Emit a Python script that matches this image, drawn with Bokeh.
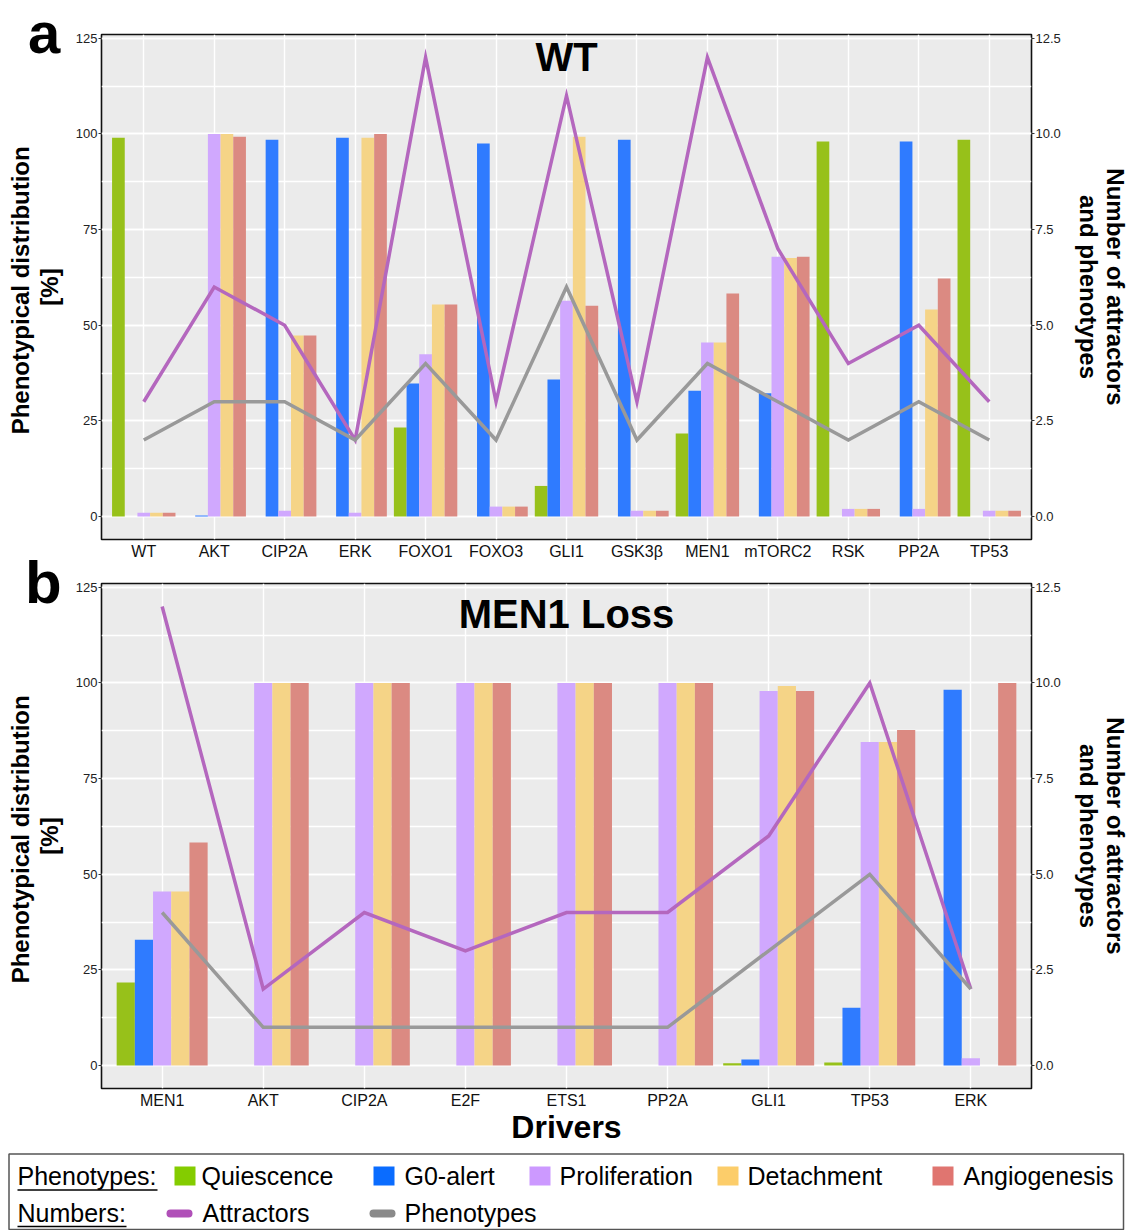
import numpy as np
from bokeh.plotting import figure
from bokeh.layouts import column
from bokeh.models import (ColumnDataSource, Range1d, LinearAxis, Label, FixedTicker,
                          SingleIntervalTicker, PrintfTickFormatter, Div)
from bokeh.embed import file_html
from bokeh.resources import INLINE

# ---------------- data ----------------
phenotype_names = ["Quiescence", "G0-alert", "Proliferation", "Detachment", "Angiogenesis"]
bar_colors = ["#97C11A", "#2F7BFF", "#D0A8FE", "#F5D487", "#DB8A82"]
legend_colors = ["#84CC00", "#0A6CFF", "#CC99FF", "#FCCD6A", "#E07570"]
number_names = ["Attractors", "Phenotypes"]
line_colors = ["#B467BE", "#999999"]
legend_line_colors = ["#B050B8", "#8A8A8A"]

wt_drivers = ["WT", "AKT", "CIP2A", "ERK", "FOXO1", "FOXO3", "GLI1", "GSK3β",
              "MEN1", "mTORC2", "RSK", "PP2A", "TP53"]
wt_quiescence = [99.0, 0, 0, 0, 23.3, 0, 8.0, 0, 21.7, 0, 98.0, 0, 98.5]
wt_g0_alert = [0, 0.3, 98.5, 99.0, 34.8, 97.5, 35.8, 98.5, 32.9, 32.2, 0, 98.0, 0]
wt_proliferation = [1.0, 100, 1.5, 1.0, 42.4, 2.6, 56.4, 1.5, 45.5, 67.9, 2.0, 2.0, 1.5]
wt_detachment = [1.0, 100, 47.3, 99.0, 55.4, 2.6, 99.3, 1.5, 45.5, 67.6, 2.0, 54.1, 1.5]
wt_angiogenesis = [1.0, 99.3, 47.3, 100, 55.4, 2.6, 55.1, 1.5, 58.3, 67.9, 2.0, 62.2, 1.5]
wt_attractors = [3, 6, 5, 2, 12, 3, 11, 3, 12, 7, 4, 5, 3]
wt_phenotypes = [2, 3, 3, 2, 4, 2, 6, 2, 4, 3, 2, 3, 2]

men1_drivers = ["MEN1", "AKT", "CIP2A", "E2F", "ETS1", "PP2A", "GLI1", "TP53", "ERK"]
men1_quiescence = [21.7, 0, 0, 0, 0, 0, 0.6, 0.8, 0]
men1_g0_alert = [32.9, 0, 0, 0, 0, 0, 1.6, 15.1, 98.2]
men1_proliferation = [45.5, 100, 100, 100, 100, 100, 97.9, 84.6, 1.9]
men1_detachment = [45.5, 100, 100, 100, 100, 100, 99.2, 84.6, 0]
men1_angiogenesis = [58.3, 100, 100, 100, 100, 100, 97.9, 87.7, 100]
men1_attractors = [12, 2, 4, 3, 4, 4, 6, 10, 2]
men1_phenotypes = [4, 1, 1, 1, 1, 1, 3, 5, 2]

right_ticks = [0, 2.5, 5.0, 7.5, 10.0, 12.5]

FONT = "Liberation Sans"
W = 1131
BORDER_L = 101
BORDER_R = 99
BW = 0.18


def make_panel(drivers, series, attractors, phenos, title, title_y,
               height, btop, bbottom, xlabel):
    n = len(drivers)
    p = figure(width=W, height=height,
               x_range=Range1d(-0.6, n - 1 + 0.6), y_range=Range1d(-6, 126),
               output_backend="svg", toolbar_location=None,
               min_border_left=BORDER_L, min_border_right=BORDER_R,
               min_border_top=btop, min_border_bottom=bbottom)
    p.extra_y_ranges = {"num": Range1d(-0.6, 12.6)}
    p.background_fill_color = "#EBEBEB"
    p.border_fill_color = "white"
    p.outline_line_color = "#111111"
    p.outline_line_width = 1.6

    idx = np.arange(n)
    for k, (vals, col) in enumerate(zip(series, bar_colors)):
        src = ColumnDataSource(dict(x=idx + (k - 2) * BW, top=vals))
        p.vbar(x="x", top="top", bottom=0, width=BW, source=src,
               fill_color=col, line_color=None)

    for vals, col in zip([attractors, phenos], line_colors):
        src = ColumnDataSource(dict(x=idx, y=vals))
        p.line(x="x", y="y", source=src, line_color=col, line_width=3.5,
               y_range_name="num", line_join="miter")

    # x axis
    xt = FixedTicker(ticks=list(range(n)))
    p.xaxis.ticker = xt
    p.xgrid.ticker = xt
    p.xaxis.major_label_overrides = {i: d for i, d in enumerate(drivers)}
    p.xaxis.major_tick_line_color = None
    p.xaxis.major_tick_out = 0
    p.xaxis.major_tick_in = 0
    p.xaxis.minor_tick_line_color = None
    p.xaxis.minor_tick_out = 0
    p.xaxis.axis_line_color = None
    p.xaxis.major_label_text_font = FONT
    p.xaxis.major_label_text_font_size = "16px"
    p.xaxis.major_label_text_color = "#111111"
    p.xaxis.major_label_standoff = 3
    if xlabel:
        p.xaxis.axis_label = xlabel
        p.xaxis.axis_label_text_font = FONT
        p.xaxis.axis_label_text_font_style = "bold"
        p.xaxis.axis_label_text_font_size = "32px"
        p.xaxis.axis_label_text_line_height = 1.0
        p.xaxis.axis_label_text_color = "black"
        p.xaxis.axis_label_standoff = -3

    # left y axis
    yt = SingleIntervalTicker(interval=25, num_minor_ticks=2)
    p.yaxis.ticker = yt
    p.ygrid.ticker = yt
    p.yaxis.axis_line_color = None
    p.yaxis.minor_tick_line_color = None
    p.yaxis.minor_tick_out = 0
    p.yaxis.major_tick_line_color = "#333333"
    p.yaxis.major_tick_in = 0
    p.yaxis.major_tick_out = 3
    p.yaxis.major_label_text_font = FONT
    p.yaxis.major_label_text_font_size = "13px"
    p.yaxis.major_label_text_color = "#222222"
    p.yaxis.major_label_standoff = 1
    p.yaxis.axis_label = "Phenotypical  distribution\n[%]"
    p.yaxis.axis_label_text_font = FONT
    p.yaxis.axis_label_text_font_style = "bold"
    p.yaxis.axis_label_text_font_size = "24px"
    p.yaxis.axis_label_text_line_height = 1.05
    p.yaxis.axis_label_text_color = "black"
    p.yaxis.axis_label_standoff = 10

    # right axis
    ra = LinearAxis(y_range_name="num", ticker=FixedTicker(ticks=right_ticks),
                    formatter=PrintfTickFormatter(format="%.1f"))
    ra.axis_line_color = None
    ra.minor_tick_line_color = None
    ra.minor_tick_out = 0
    ra.major_tick_line_color = "#333333"
    ra.major_tick_in = 0
    ra.major_tick_out = 3
    ra.major_label_text_font = FONT
    ra.major_label_text_font_size = "13px"
    ra.major_label_text_color = "#222222"
    ra.major_label_standoff = 1
    ra.axis_label = "Number of attractors\nand phenotypes"
    ra.axis_label_text_font = FONT
    ra.axis_label_text_font_style = "bold"
    ra.axis_label_text_font_size = "24px"
    ra.axis_label_text_line_height = 1.0
    ra.axis_label_text_color = "black"
    ra.axis_label_standoff = 11
    p.add_layout(ra, "right")

    # grid
    p.xgrid.grid_line_color = "white"
    p.xgrid.grid_line_width = 1.4
    p.ygrid.grid_line_color = "white"
    p.ygrid.grid_line_width = 1.5
    p.ygrid.minor_grid_line_color = "white"
    p.ygrid.minor_grid_line_width = 1.3

    p.add_layout(Label(x=(n - 1) / 2, y=title_y, text=title, text_align="center",
                       text_baseline="middle", text_font=FONT,
                       text_font_style="bold", text_font_size="40px", text_color="black"))
    return p


p1 = make_panel(wt_drivers,
                [wt_quiescence, wt_g0_alert, wt_proliferation, wt_detachment, wt_angiogenesis],
                wt_attractors, wt_phenotypes, "WT", 120.2,
                height=568, btop=34, bbottom=29, xlabel=None)
p2 = make_panel(men1_drivers,
                [men1_quiescence, men1_g0_alert, men1_proliferation, men1_detachment, men1_angiogenesis],
                men1_attractors, men1_phenotypes, "MEN1 Loss", 118.1,
                height=583, btop=15, bbottom=63, xlabel="Drivers")

# ---------------- legend panel (coordinates = canvas pixels) ----------------
TOP3 = 568 + 583
p3 = figure(width=W, height=1230 - TOP3, x_range=Range1d(0, W), y_range=Range1d(1230, TOP3),
            output_backend="svg", toolbar_location=None, min_border=0,
            x_axis_location=None, y_axis_location=None)
p3.frame_align = False
p3.outline_line_color = None
p3.background_fill_color = "white"
p3.border_fill_color = "white"
p3.grid.visible = False

p3.quad(left=[8.5], right=[1123], top=[1153.5], bottom=[1229], fill_color=None,
        line_color="#555555", line_width=1.5)

sw_left = [174, 373, 529, 717, 932]
txt_left = [201, 404, 559, 747, 963]
p3.quad(left=sw_left, right=[v + 21 for v in sw_left], top=[1166] * 5, bottom=[1185] * 5,
        fill_color=legend_colors, line_color=None)
for xt_, name in zip(txt_left, phenotype_names):
    p3.add_layout(Label(x=xt_, y=1175, text=name, text_font=FONT, text_font_size="25px",
                        text_baseline="middle", text_align="left", text_color="black"))

pill_left = [170, 373]
for xl, col in zip(pill_left, legend_line_colors):
    p3.line(x=[xl, xl + 18], y=[1213, 1213], line_color=col, line_width=8, line_cap="round")
for xt_, name in zip([202, 404], number_names):
    p3.add_layout(Label(x=xt_, y=1212, text=name, text_font=FONT, text_font_size="25px",
                        text_baseline="middle", text_align="left", text_color="black"))

for yy, name in zip([1175, 1212], ["Phenotypes:", "Numbers:"]):
    p3.add_layout(Label(x=17, y=yy, text=name, text_font=FONT, text_font_size="25px",
                        text_baseline="middle", text_align="left", text_color="black"))
p3.segment(x0=[17, 17], y0=[1189.5, 1226], x1=[157, 126], y1=[1189.5, 1226],
           line_color="black", line_width=1.5)

# ---------------- panel letters ----------------
letter_style = {"position": "absolute", "font-family": FONT, "font-weight": "bold",
                "color": "black", "z-index": "10", "margin": "0", "padding": "0"}
div_a = Div(text="a", styles=dict(letter_style, left="28px", top="0px",
                                  **{"font-size": "58px", "line-height": "65px"}))
div_b = Div(text="b", styles=dict(letter_style, left="25px", top="559px",
                                  **{"font-size": "60px", "line-height": "48px"}))

layout = column(p1, p2, p3, div_a, div_b, spacing=0)
open("out.html", "w").write(file_html(layout, INLINE))
